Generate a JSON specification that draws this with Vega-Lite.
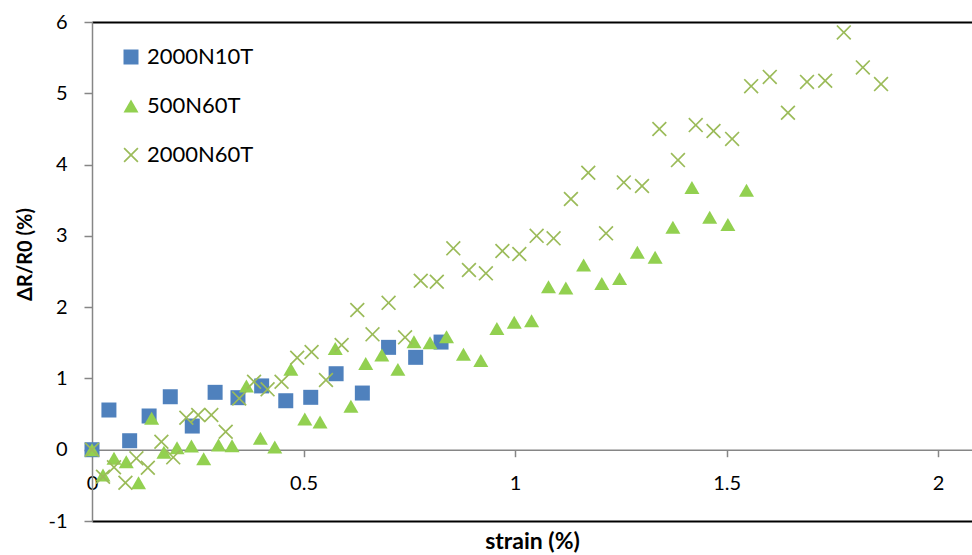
{
  "$schema": "https://vega.github.io/schema/vega-lite/v6.json",
  "width": 880,
  "height": 499,
  "autosize": {"type": "none"},
  "padding": {"left": 92, "top": 22, "right": 0, "bottom": 34},
  "background": "white",
  "config": {
    "view": {"stroke": null},
    "font": "Lato",
    "legend": {
      "orient": "none",
      "legendX": 28,
      "legendY": 24,
      "labelFont": "Lato",
      "labelFontSize": 22,
      "labelColor": "black",
      "symbolSize": 225,
      "rowPadding": 27,
      "labelOffset": 5,
      "padding": 0,
      "symbolStrokeWidth": 0,
      "symbolOpacity": 1
    }
  },
  "data": {
    "values": [
      {"s": "2000N10T", "x": 0, "y": 0},
      {"s": "2000N10T", "x": 0.040, "y": 0.557},
      {"s": "2000N10T", "x": 0.089, "y": 0.126},
      {"s": "2000N10T", "x": 0.135, "y": 0.473},
      {"s": "2000N10T", "x": 0.185, "y": 0.743},
      {"s": "2000N10T", "x": 0.237, "y": 0.332},
      {"s": "2000N10T", "x": 0.291, "y": 0.805},
      {"s": "2000N10T", "x": 0.345, "y": 0.73},
      {"s": "2000N10T", "x": 0.401, "y": 0.895},
      {"s": "2000N10T", "x": 0.458, "y": 0.687},
      {"s": "2000N10T", "x": 0.517, "y": 0.735},
      {"s": "2000N10T", "x": 0.577, "y": 1.066},
      {"s": "2000N10T", "x": 0.639, "y": 0.795},
      {"s": "2000N10T", "x": 0.701, "y": 1.436},
      {"s": "2000N10T", "x": 0.765, "y": 1.296},
      {"s": "2000N10T", "x": 0.825, "y": 1.51},
      {"s": "500N60T", "x": 0, "y": 0},
      {"s": "500N60T", "x": 0.026, "y": -0.355},
      {"s": "500N60T", "x": 0.052, "y": -0.121},
      {"s": "500N60T", "x": 0.081, "y": -0.168},
      {"s": "500N60T", "x": 0.110, "y": -0.463},
      {"s": "500N60T", "x": 0.141, "y": 0.44},
      {"s": "500N60T", "x": 0.170, "y": -0.035},
      {"s": "500N60T", "x": 0.201, "y": 0.028},
      {"s": "500N60T", "x": 0.235, "y": 0.052},
      {"s": "500N60T", "x": 0.264, "y": -0.126},
      {"s": "500N60T", "x": 0.299, "y": 0.066},
      {"s": "500N60T", "x": 0.331, "y": 0.056},
      {"s": "500N60T", "x": 0.365, "y": 0.893},
      {"s": "500N60T", "x": 0.398, "y": 0.16},
      {"s": "500N60T", "x": 0.432, "y": 0.038},
      {"s": "500N60T", "x": 0.470, "y": 1.13},
      {"s": "500N60T", "x": 0.503, "y": 0.43},
      {"s": "500N60T", "x": 0.539, "y": 0.39},
      {"s": "500N60T", "x": 0.575, "y": 1.42},
      {"s": "500N60T", "x": 0.612, "y": 0.61},
      {"s": "500N60T", "x": 0.647, "y": 1.21},
      {"s": "500N60T", "x": 0.685, "y": 1.33},
      {"s": "500N60T", "x": 0.723, "y": 1.127},
      {"s": "500N60T", "x": 0.761, "y": 1.515},
      {"s": "500N60T", "x": 0.799, "y": 1.50},
      {"s": "500N60T", "x": 0.838, "y": 1.585},
      {"s": "500N60T", "x": 0.878, "y": 1.338},
      {"s": "500N60T", "x": 0.919, "y": 1.25},
      {"s": "500N60T", "x": 0.957, "y": 1.70},
      {"s": "500N60T", "x": 0.998, "y": 1.787},
      {"s": "500N60T", "x": 1.039, "y": 1.81},
      {"s": "500N60T", "x": 1.079, "y": 2.286},
      {"s": "500N60T", "x": 1.120, "y": 2.27},
      {"s": "500N60T", "x": 1.162, "y": 2.59},
      {"s": "500N60T", "x": 1.205, "y": 2.33},
      {"s": "500N60T", "x": 1.247, "y": 2.40},
      {"s": "500N60T", "x": 1.289, "y": 2.77},
      {"s": "500N60T", "x": 1.331, "y": 2.70},
      {"s": "500N60T", "x": 1.373, "y": 3.12},
      {"s": "500N60T", "x": 1.418, "y": 3.68},
      {"s": "500N60T", "x": 1.460, "y": 3.26},
      {"s": "500N60T", "x": 1.503, "y": 3.16},
      {"s": "500N60T", "x": 1.547, "y": 3.64},
      {"s": "2000N60T", "x": 0, "y": 0},
      {"s": "2000N60T", "x": 0.026, "y": -0.379},
      {"s": "2000N60T", "x": 0.052, "y": -0.247},
      {"s": "2000N60T", "x": 0.079, "y": -0.463},
      {"s": "2000N60T", "x": 0.105, "y": -0.121},
      {"s": "2000N60T", "x": 0.132, "y": -0.252},
      {"s": "2000N60T", "x": 0.164, "y": 0.112},
      {"s": "2000N60T", "x": 0.192, "y": -0.107},
      {"s": "2000N60T", "x": 0.223, "y": 0.449},
      {"s": "2000N60T", "x": 0.251, "y": 0.487},
      {"s": "2000N60T", "x": 0.282, "y": 0.487},
      {"s": "2000N60T", "x": 0.316, "y": 0.252},
      {"s": "2000N60T", "x": 0.348, "y": 0.72},
      {"s": "2000N60T", "x": 0.383, "y": 0.954},
      {"s": "2000N60T", "x": 0.415, "y": 0.847},
      {"s": "2000N60T", "x": 0.448, "y": 0.954},
      {"s": "2000N60T", "x": 0.485, "y": 1.29},
      {"s": "2000N60T", "x": 0.519, "y": 1.37},
      {"s": "2000N60T", "x": 0.553, "y": 0.978},
      {"s": "2000N60T", "x": 0.590, "y": 1.468},
      {"s": "2000N60T", "x": 0.627, "y": 1.96},
      {"s": "2000N60T", "x": 0.663, "y": 1.618},
      {"s": "2000N60T", "x": 0.701, "y": 2.06},
      {"s": "2000N60T", "x": 0.740, "y": 1.576},
      {"s": "2000N60T", "x": 0.777, "y": 2.37},
      {"s": "2000N60T", "x": 0.815, "y": 2.357},
      {"s": "2000N60T", "x": 0.854, "y": 2.825},
      {"s": "2000N60T", "x": 0.891, "y": 2.52},
      {"s": "2000N60T", "x": 0.931, "y": 2.474},
      {"s": "2000N60T", "x": 0.970, "y": 2.787},
      {"s": "2000N60T", "x": 1.010, "y": 2.745},
      {"s": "2000N60T", "x": 1.051, "y": 3.00},
      {"s": "2000N60T", "x": 1.091, "y": 2.965},
      {"s": "2000N60T", "x": 1.132, "y": 3.516},
      {"s": "2000N60T", "x": 1.173, "y": 3.885},
      {"s": "2000N60T", "x": 1.215, "y": 3.035},
      {"s": "2000N60T", "x": 1.257, "y": 3.75},
      {"s": "2000N60T", "x": 1.300, "y": 3.70},
      {"s": "2000N60T", "x": 1.341, "y": 4.50},
      {"s": "2000N60T", "x": 1.385, "y": 4.063},
      {"s": "2000N60T", "x": 1.427, "y": 4.554},
      {"s": "2000N60T", "x": 1.469, "y": 4.47},
      {"s": "2000N60T", "x": 1.513, "y": 4.36},
      {"s": "2000N60T", "x": 1.558, "y": 5.10},
      {"s": "2000N60T", "x": 1.602, "y": 5.23},
      {"s": "2000N60T", "x": 1.645, "y": 4.727},
      {"s": "2000N60T", "x": 1.690, "y": 5.16},
      {"s": "2000N60T", "x": 1.733, "y": 5.175},
      {"s": "2000N60T", "x": 1.777, "y": 5.854},
      {"s": "2000N60T", "x": 1.822, "y": 5.363},
      {"s": "2000N60T", "x": 1.865, "y": 5.129}
    ]
  },
  "encoding": {
    "y": {
      "field": "y",
      "type": "quantitative",
      "scale": {"domain": [-1, 6], "nice": false, "zero": false},
      "axis": {
        "values": [-1, 0, 1, 2, 3, 4, 5, 6],
        "labelExpr": "toString(datum.value)",
        "grid": false,
        "domainColor": "#868686",
        "domainWidth": 1.5,
        "tickColor": "#868686",
        "tickWidth": 1.5,
        "tickSize": 8,
        "labelFont": "Lato",
        "labelFontSize": 20,
        "labelColor": "black",
        "labelPadding": 17,
        "labelFlush": false,
        "title": "ΔR/R0 (%)",
        "titleFont": "Lato",
        "titleFontSize": 20,
        "titleFontWeight": "bold",
        "titleColor": "black",
        "titleAngle": -90,
        "titleAlign": "center",
        "titleBaseline": "middle",
        "titleX": -67,
        "titleY": 232
      }
    },
    "color": {
      "field": "s",
      "type": "nominal",
      "title": null,
      "scale": {"domain": ["2000N10T", "500N60T", "2000N60T"], "range": ["#4F81BD", "#92D050", "#9BBB59"]}
    },
    "shape": {
      "field": "s",
      "type": "nominal",
      "title": null,
      "scale": {"domain": ["2000N10T", "500N60T", "2000N60T"], "range": ["square", "triangle-up", "M-0.84,-1L0,-0.16L0.84,-1L1,-0.84L0.16,0L1,0.84L0.84,1L0,0.16L-0.84,1L-1,0.84L-0.16,0L-1,-0.84Z"]}
    }
  },
  "layer": [
    {
      "transform": [{"filter": "datum.s === '2000N10T'"}],
      "mark": {"type": "point", "filled": true, "opacity": 1, "size": 225},
      "encoding": {
        "x": {
          "field": "x",
          "type": "quantitative",
          "scale": {"domain": [0, 2.08], "nice": false, "zero": false},
          "axis": {
            "orient": "bottom",
            "offset": -71.29,
            "values": [0, 0.5, 1, 1.5, 2],
            "format": "~g",
            "grid": false,
            "domainColor": "#868686",
            "domainWidth": 1.5,
            "tickColor": "#868686",
            "tickWidth": 1.5,
            "tickSize": 7,
            "labelFont": "Lato",
            "labelFontSize": 20,
            "labelColor": "black",
            "labelPadding": 17,
            "labelFlush": false,
            "title": null
          }
        }
      }
    },
    {
      "transform": [{"filter": "datum.s === '500N60T'"}],
      "mark": {"type": "point", "filled": true, "opacity": 1, "size": 225},
      "encoding": {
        "x": {
          "field": "x",
          "type": "quantitative",
          "scale": {"domain": [0, 2.08], "nice": false, "zero": false},
          "axis": {
            "orient": "bottom",
            "grid": false,
            "ticks": false,
            "labels": false,
            "domainColor": "black",
            "domainWidth": 2,
            "title": "strain (%)",
            "titleFont": "Lato",
            "titleFontSize": 23,
            "titleFontWeight": "bold",
            "titleColor": "black",
            "titlePadding": 9
          }
        }
      }
    },
    {
      "transform": [{"filter": "datum.s === '2000N60T'"}],
      "mark": {"type": "point", "filled": true, "opacity": 1, "size": 225},
      "encoding": {
        "x": {
          "field": "x",
          "type": "quantitative",
          "scale": {"domain": [0, 2.08], "nice": false, "zero": false},
          "axis": {
            "orient": "top",
            "grid": false,
            "ticks": false,
            "labels": false,
            "domainColor": "black",
            "domainWidth": 2,
            "title": null
          }
        }
      }
    }
  ],
  "resolve": {"axis": {"x": "independent"}}
}
